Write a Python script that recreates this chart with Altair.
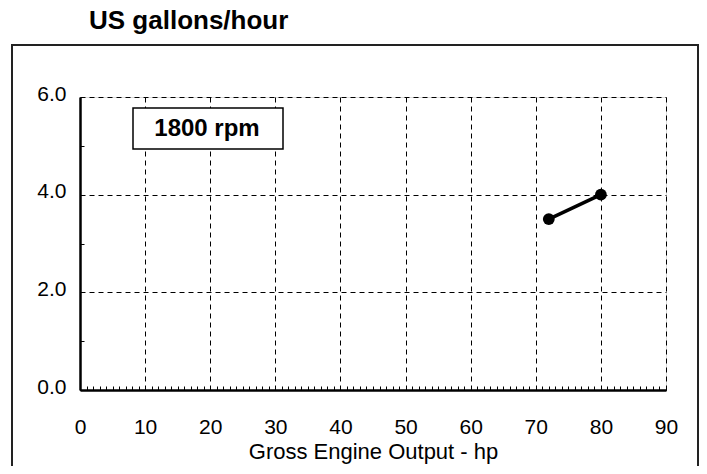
import altair as alt
import pandas as pd

# Data
hp = [72, 80]
gph = [3.5, 4.0]
series_label = "1800 rpm"

title_text = "US gallons/hour"
x_title = "Gross Engine Output - hp"
x_major = [0, 10, 20, 30, 40, 50, 60, 70, 80, 90]
y_major = [0, 2, 4, 6]
x_minor = list(range(0, 91))
y_minor = [1, 3, 5]

df = pd.DataFrame({"hp": hp, "gph": gph, "series": [series_label] * len(hp)})

W, H = 586, 293
FONT = "Liberation Sans"

xscale = alt.Scale(domain=[0, 90], nice=False, zero=False)
yscale = alt.Scale(domain=[0, 6], nice=False, zero=False)

base = alt.Chart(df)

line = base.mark_line(color="black", strokeWidth=3.5).encode(
    x=alt.X("hp:Q", scale=xscale, title=x_title,
            axis=alt.Axis(values=x_major, grid=True, gridDash=[5, 4], gridColor="black",
                          gridWidth=1, gridOpacity=1, ticks=False, domainColor="black",
                          domainWidth=2.5, labelFontSize=21, labelFont=FONT, labelColor="black",
                          labelPadding=26, labelFlush=False, titleFont=FONT, titleFontSize=22,
                          titleFontWeight="normal", titleColor="black", titlePadding=4)),
    y=alt.Y("gph:Q", scale=yscale, title=None,
            axis=alt.Axis(values=y_major, format=".1f", grid=True, gridDash=[5, 4],
                          gridColor="black", gridWidth=1, gridOpacity=1, ticks=False,
                          domainColor="black", domainWidth=2.5, labelFontSize=21,
                          labelFont=FONT, labelColor="black", labelPadding=14,
                          labelOffset=-3, labelFlush=False)),
)

points = base.mark_point(filled=True, color="black", size=140, opacity=1).encode(
    x=alt.X("hp:Q", scale=xscale,
            axis=alt.Axis(orient="top", offset=-H, values=x_minor, labels=False, domain=False,
                          grid=False, ticks=True, tickSize=4, tickColor="black", tickWidth=1,
                          title=None)),
    y=alt.Y("gph:Q", scale=yscale,
            axis=alt.Axis(orient="right", offset=-W, values=y_minor, labels=False, domain=False,
                          grid=False, ticks=True, tickSize=4, tickColor="black", tickWidth=1,
                          title=None)),
)

# outer frame of the chart (decoration)
frame = alt.Chart(df).mark_rect(filled=False, stroke="#222222", strokeWidth=2, fill=None).encode(
    x=alt.value(-68), x2=alt.value(618), y=alt.value(-52), y2=alt.value(420)
).transform_filter("datum.hp == 80")

# label box
box = alt.Chart(df).mark_rect(fill="white", stroke="black", strokeWidth=1.5).encode(
    x=alt.value(53), x2=alt.value(203), y=alt.value(11), y2=alt.value(52)
).transform_filter("datum.hp == 80")

label = alt.Chart(df).mark_text(font=FONT, fontSize=24, fontWeight="bold", color="black",
                                align="center", baseline="middle").encode(
    x=alt.value(127), y=alt.value(32), text="series:N"
).transform_filter("datum.hp == 80")

chart = alt.layer(frame, line, points, box, label).resolve_axis(
    x="independent", y="independent"
).properties(
    width=W, height=H,
    padding={"left": 72, "top": 89, "right": 33, "bottom": 76},
    autosize=alt.AutoSizeParams(type="none"),
    title=alt.TitleParams(title_text, anchor="start", frame="group", orient="top",
                          font=FONT, fontSize=26, fontWeight="bold", color="black",
                          dx=9, dy=27, offset=16, baseline="alphabetic"),
).configure_view(stroke="black", strokeWidth=2).configure(background="white")

chart.save("out.html", embed_options={"renderer": "svg", "actions": False})
